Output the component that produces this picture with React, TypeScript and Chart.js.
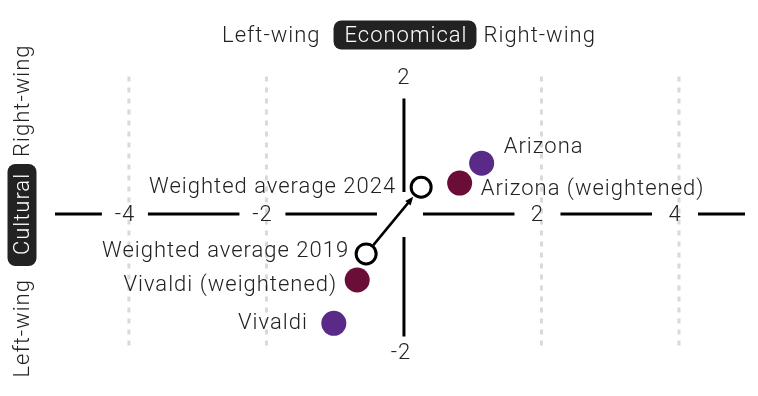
import React, { useEffect, useRef } from "react";
import { Chart, registerables } from "chart.js";

Chart.register(...registerables);

const pointNames = [
  "Arizona",
  "Arizona (weightened)",
  "Weighted average 2024",
  "Weighted average 2019",
  "Vivaldi (weightened)",
  "Vivaldi",
];
const economicValues = [1.13, 0.81, 0.25, -0.55, -0.68, -1.02];
const culturalValues = [0.74, 0.45, 0.39, -0.58, -0.96, -1.59];
const xTickValues = [-4, -2, 2, 4];
const yTickValues = [2, -2];
const xTitleParts = ["Left-wing", "Economical", "Right-wing"];
const yTitleParts = ["Left-wing", "Cultural", "Right-wing"];
const arrowFrom = 3;
const arrowTo = 2;

// styling (not data)
const PURPLE = "#5a2a88";
const MAROON = "#6a0d37";
const TEXT = "#222222";
const FONT = "300 22px Roboto, 'DejaVu Sans', sans-serif";
const fillColors = [PURPLE, MAROON, "#ffffff", "#ffffff", MAROON, PURPLE];
const borderColors = [PURPLE, MAROON, "#000000", "#000000", MAROON, PURPLE];
const borderWidths = [0, 0, 3, 3, 0, 0];
const radii = [12.5, 12.5, 10, 10, 12.5, 12.5];
const labelStyle: { dx: number; dy: number; align: CanvasTextAlign }[] = [
  { dx: 22, dy: -16, align: "left" },
  { dx: 21, dy: 6, align: "left" },
  { dx: -25, dy: 0, align: "right" },
  { dx: -17, dy: -2, align: "right" },
  { dx: -20, dy: 5, align: "right" },
  { dx: -26, dy: 0, align: "right" },
];

const setFont = (ctx: any) => {
  ctx.font = FONT;
  try {
    ctx.letterSpacing = "1px";
  } catch (e) {}
};

const backgroundPlugin = {
  id: "quadrantAxes",
  beforeDatasetsDraw(chart: any) {
    const { ctx, chartArea, scales } = chart;
    const xs = scales.x;
    const ys = scales.y;
    const x0 = xs.getPixelForValue(0);
    const y0 = ys.getPixelForValue(0);
    ctx.save();
    // dashed grid
    ctx.strokeStyle = "#d9d9d9";
    ctx.lineWidth = 3;
    ctx.setLineDash([5, 6]);
    xTickValues.forEach((v) => {
      const px = xs.getPixelForValue(v);
      ctx.beginPath();
      ctx.moveTo(px, chartArea.top);
      ctx.lineTo(px, chartArea.bottom);
      ctx.stroke();
    });
    ctx.setLineDash([]);
    // horizontal axis segments
    ctx.strokeStyle = "#000";
    ctx.lineWidth = 3;
    const stops = [...xTickValues.filter((v) => v < 0), 0, ...xTickValues.filter((v) => v > 0)].map((v) =>
      xs.getPixelForValue(v)
    );
    let start = chartArea.left;
    stops.forEach((p) => {
      ctx.beginPath();
      ctx.moveTo(start, y0);
      ctx.lineTo(p - 27, y0);
      ctx.stroke();
      start = p + 19;
    });
    ctx.beginPath();
    ctx.moveTo(start, y0);
    ctx.lineTo(chartArea.right, y0);
    ctx.stroke();
    // vertical axis segments
    const yTop = ys.getPixelForValue(yTickValues[0]);
    const yBot = ys.getPixelForValue(yTickValues[1]);
    ctx.beginPath();
    ctx.moveTo(x0, yTop + 22);
    ctx.lineTo(x0, y0 - 22);
    ctx.moveTo(x0, y0 + 23);
    ctx.lineTo(x0, yBot - 15);
    ctx.stroke();
    // tick labels
    setFont(ctx);
    ctx.fillStyle = TEXT;
    ctx.textAlign = "center";
    ctx.textBaseline = "middle";
    xTickValues.forEach((v) => {
      ctx.fillText(String(v), xs.getPixelForValue(v) - 4, y0 + 1);
    });
    yTickValues.forEach((v) => {
      ctx.fillText(String(v), x0 - (v < 0 ? 3 : 0), ys.getPixelForValue(v) + 1.5);
    });
    // arrow
    const ax = xs.getPixelForValue(economicValues[arrowFrom]);
    const ay = ys.getPixelForValue(culturalValues[arrowFrom]);
    const bx = xs.getPixelForValue(economicValues[arrowTo]);
    const by = ys.getPixelForValue(culturalValues[arrowTo]);
    const ang = Math.atan2(by - ay, bx - ax);
    const sx = ax + Math.cos(ang) * 11;
    const sy = ay + Math.sin(ang) * 11;
    const ex = bx - Math.cos(ang) * 12.5;
    const ey = by - Math.sin(ang) * 12.5;
    ctx.lineWidth = 2.5;
    ctx.beginPath();
    ctx.moveTo(sx, sy);
    ctx.lineTo(ex - Math.cos(ang) * 4, ey - Math.sin(ang) * 4);
    ctx.stroke();
    ctx.beginPath();
    ctx.moveTo(ex, ey);
    ctx.lineTo(ex - Math.cos(ang - 0.4) * 9, ey - Math.sin(ang - 0.4) * 9);
    ctx.lineTo(ex - Math.cos(ang + 0.4) * 9, ey - Math.sin(ang + 0.4) * 9);
    ctx.closePath();
    ctx.fillStyle = "#000";
    ctx.fill();
    ctx.restore();
  },
  afterDatasetsDraw(chart: any) {
    const { ctx, scales } = chart;
    const xs = scales.x;
    const ys = scales.y;
    ctx.save();
    setFont(ctx);
    ctx.fillStyle = TEXT;
    ctx.textBaseline = "middle";
    pointNames.forEach((name, i) => {
      const px = xs.getPixelForValue(economicValues[i]);
      const py = ys.getPixelForValue(culturalValues[i]);
      const st = labelStyle[i];
      ctx.textAlign = st.align;
      ctx.fillText(name, px + st.dx, py + st.dy);
    });

    const drawTitle = (parts: string[]) => {
      const boxW = ctx.measureText(parts[1]).width + 20;
      const boxH = 29;
      ctx.fillStyle = "#222222";
      ctx.beginPath();
      (ctx as any).roundRect(-boxW / 2, -boxH / 2, boxW, boxH, 8);
      ctx.fill();
      ctx.fillStyle = "#ffffff";
      ctx.textAlign = "center";
      ctx.fillText(parts[1], 1, 1);
      ctx.fillStyle = TEXT;
      ctx.textAlign = "right";
      ctx.fillText(parts[0], -boxW / 2 - 13, 1);
      ctx.textAlign = "left";
      ctx.fillText(parts[2], boxW / 2 + 7, 1);
    };
    // horizontal title
    ctx.save();
    ctx.translate(405, 35);
    drawTitle(xTitleParts);
    ctx.restore();
    // vertical title
    ctx.save();
    ctx.translate(22, 215);
    ctx.rotate(-Math.PI / 2);
    drawTitle(yTitleParts);
    ctx.restore();
    ctx.restore();
  },
};

export default function App() {
  const ref = useRef<HTMLCanvasElement | null>(null);
  useEffect(() => {
    if (!ref.current) return;
    const chart = new Chart(ref.current, {
      type: "scatter",
      data: {
        datasets: [
          {
            data: economicValues.map((x, i) => ({ x, y: culturalValues[i] })),
            backgroundColor: fillColors,
            borderColor: borderColors,
            borderWidth: borderWidths,
            pointRadius: radii,
            pointHoverRadius: radii,
          },
        ],
      },
      options: {
        responsive: false,
        animation: false,
        layout: { padding: { left: 55, right: 13, top: 76.5, bottom: 44.5 } },
        scales: {
          x: { type: "linear", min: -5.075, max: 4.96, display: false },
          y: { type: "linear", min: -2, max: 2, display: false },
        },
        plugins: { legend: { display: false }, tooltip: { enabled: false } },
      },
      plugins: [backgroundPlugin],
    });
    return () => chart.destroy();
  }, []);
  return (
    <div style={{ position: "fixed", left: 0, top: 0, width: 758, height: 396, background: "#fff" }}>
      <canvas ref={ref} width={758} height={396} />
    </div>
  );
}
